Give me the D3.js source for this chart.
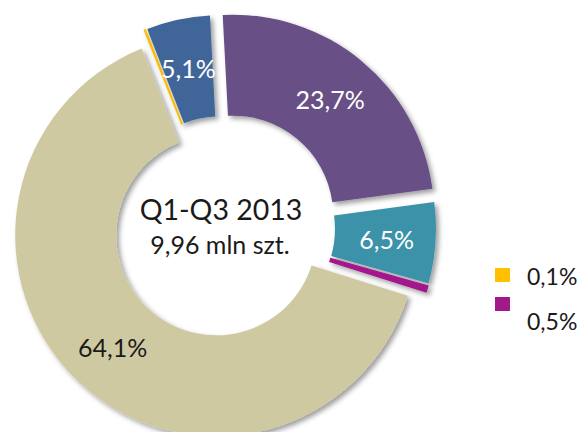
<!DOCTYPE html>
<html>
<head>
<meta charset="utf-8">
<script src="https://cdn.jsdelivr.net/npm/d3@7/dist/d3.min.js"></script>
<style>
  html, body { margin: 0; padding: 0; background: #ffffff; }
  svg { display: block; font-family: Lato, "Open Sans", sans-serif; }
</style>
</head>
<body>
<svg id="chart" width="583" height="432"></svg>
<script>
// Segment shares (percent), in clockwise order from the top
const segmentIds    = ["s1", "s2", "s3", "s4", "s5", "s6"];
const shares        = [23.7, 6.5, 0.5, 64.1, 0.1, 5.1];
const segmentColors = ["#674f85", "#3a92a9", "#a3198c", "#cfc9a2", "#ffc000", "#3f6699"];
const labelColors   = ["#ffffff", "#ffffff", null, "#1a1a1a", null, "#ffffff"];
const explodeBy     = [16, 12, 12, 10, 12, 12];

// Small segments that are listed in the legend instead of labelled on the ring
const legendIds = ["s5", "s3"];

const centerTitle    = "Q1-Q3 2013";
const centerSubtitle = "9,96 mln szt.";

// Polish number format: comma as decimal separator
const plLocale = d3.formatLocale({ decimal: ",", thousands: " ", grouping: [3], currency: ["", " zł"] });
const fmtPct = v => plLocale.format(".1f")(v) + "%";

const svg = d3.select("#chart");
const W = 583, H = 432;
svg.append("rect").attr("width", W).attr("height", H).attr("fill", "#ffffff");

// Soft shadow under the ring pieces
const defs = svg.append("defs");
const f = defs.append("filter").attr("id", "shadow")
  .attr("x", "-20%").attr("y", "-20%").attr("width", "140%").attr("height", "140%");
f.append("feDropShadow")
  .attr("dx", 3).attr("dy", 3).attr("stdDeviation", 2.5)
  .attr("flood-color", "#000").attr("flood-opacity", 0.38);

const cx = 223, cy = 228;
const innerR = 100, outerR = 201;
const rot = -3 * Math.PI / 180;

const data = segmentIds.map((id, i) => ({
  id, value: shares[i], color: segmentColors[i], labelColor: labelColors[i], explode: explodeBy[i]
}));

const pie = d3.pie().sort(null).value(d => d.value)
  .startAngle(rot).endAngle(rot + 2 * Math.PI);
const arc = d3.arc().innerRadius(innerR).outerRadius(outerR);
const labelArc = d3.arc().innerRadius(152).outerRadius(152);

const arcs = pie(data);

const ring = svg.append("g").attr("transform", `translate(${cx},${cy})`);

const slices = ring.selectAll("g.slice")
  .data(arcs)
  .join("g")
  .attr("class", "slice")
  .attr("transform", d => {
    const mid = (d.startAngle + d.endAngle) / 2;
    const e = d.data.explode;
    return `translate(${e * Math.sin(mid)},${-e * Math.cos(mid)})`;
  });

slices.append("path")
  .attr("d", arc)
  .attr("fill", d => d.data.color)
  .attr("stroke", d => d.data.color)
  .attr("stroke-width", d => d.data.value < 1 ? 1.2 : 0)
  .attr("filter", "url(#shadow)");

// Percent labels on the larger segments
slices.filter(d => d.data.labelColor)
  .append("text")
  .attr("transform", d => `translate(${labelArc.centroid(d)})`)
  .attr("text-anchor", "middle")
  .attr("dominant-baseline", "central")
  .attr("font-size", 25)
  .attr("fill", d => d.data.labelColor)
  .text(d => fmtPct(d.data.value));

// Centre caption
svg.append("text")
  .attr("x", 221).attr("y", 220)
  .attr("text-anchor", "middle")
  .attr("font-size", 28.5)
  .attr("fill", "#1a1a1a")
  .text(centerTitle);
svg.append("text")
  .attr("x", 220).attr("y", 254)
  .attr("text-anchor", "middle")
  .attr("font-size", 25)
  .attr("fill", "#1a1a1a")
  .text(centerSubtitle);

// Legend for the two smallest segments
const legendData = legendIds.map(id => data.find(d => d.id === id));
const legendY = d3.scaleBand().domain(legendIds).range([268, 326]).paddingInner(0);
const legend = svg.append("g");
legendData.forEach((d, i) => {
  legend.append("rect")
    .attr("x", 495).attr("y", legendY(d.id) + (i === 0 ? 0 : 0))
    .attr("width", 15).attr("height", 14)
    .attr("fill", d.color);
});
legend.selectAll("text")
  .data(legendData)
  .join("text")
  .attr("x", 527)
  .attr("y", (d, i) => i === 0 ? 285 : 330)
  .attr("font-size", 23)
  .attr("fill", "#1a1a1a")
  .text(d => fmtPct(d.value));
</script>
</body>
</html>
